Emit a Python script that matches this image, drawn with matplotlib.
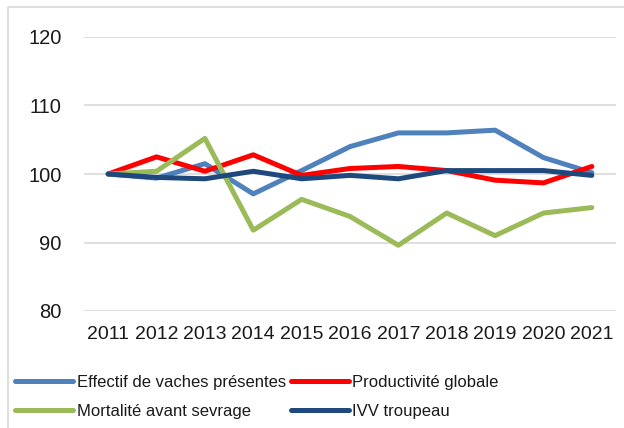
import matplotlib.pyplot as plt
from matplotlib.patches import Rectangle

years = ['2011', '2012', '2013', '2014', '2015', '2016', '2017', '2018', '2019', '2020', '2021']
effectif = [100, 99.4, 101.5, 97.1, 100.5, 104.0, 106.0, 106.0, 106.4, 102.4, 100.2]
productivite = [100, 102.5, 100.4, 102.8, 99.8, 100.8, 101.1, 100.5, 99.1, 98.7, 101.1]
mortalite = [100, 100.4, 105.2, 91.8, 96.3, 93.8, 89.6, 94.3, 91.0, 94.3, 95.1]
ivv = [100, 99.5, 99.3, 100.4, 99.3, 99.8, 99.3, 100.5, 100.5, 100.5, 99.8]

plt.rcParams['font.family'] = ['Liberation Sans', 'DejaVu Sans']

fig = plt.figure(figsize=(6.24, 4.28), dpi=100)
ax = fig.add_axes([84 / 624, 1 - 311 / 428, 532 / 624, 274 / 428])

# cadre du graphique (gris clair)
fig.patches.append(Rectangle((8 / 624, -0.1), 1.2, 1 - 7 / 428 + 0.1, transform=fig.transFigure,
                             fill=False, edgecolor='#d9d9d9', linewidth=1.2))

x = range(len(years))
l1, = ax.plot(x, effectif, color='#4F81BD', lw=3.6, solid_capstyle='round', label='Effectif de vaches présentes')
l2, = ax.plot(x, productivite, color='#FF0000', lw=3.6, solid_capstyle='round', label='Productivité globale')
l3, = ax.plot(x, mortalite, color='#9BBB59', lw=3.6, solid_capstyle='round', label='Mortalité avant sevrage')
l4, = ax.plot(x, ivv, color='#1F497D', lw=3.6, solid_capstyle='round', label='IVV troupeau')

ax.set_xlim(-0.5, len(years) - 0.5)
ax.set_ylim(80, 120)
ax.set_yticks([80, 90, 100, 110, 120])
ax.set_xticks(list(x))
ax.set_xticklabels(years)
ax.grid(axis='y', color='#d9d9d9', lw=1.2)
ax.set_axisbelow(True)
for s in ax.spines.values():
    s.set_visible(False)
ax.tick_params(length=0, labelsize=14, colors='#1a1a1a')
ax.tick_params(axis='y', labelsize=14.5, pad=16)
ax.tick_params(axis='x', pad=11)

fig.legend([l1, l3, l2, l4], [l.get_label() for l in [l1, l3, l2, l4]], ncol=2, loc='upper left',
           bbox_to_anchor=(15 / 624, 1 - 375 / 428), frameon=False, fontsize=12,
           handlelength=3.5, handletextpad=0.2, columnspacing=0.3, labelspacing=0.85,
           borderaxespad=0, borderpad=0, labelcolor='#1a1a1a')

fig.savefig('out.png', dpi=100)
